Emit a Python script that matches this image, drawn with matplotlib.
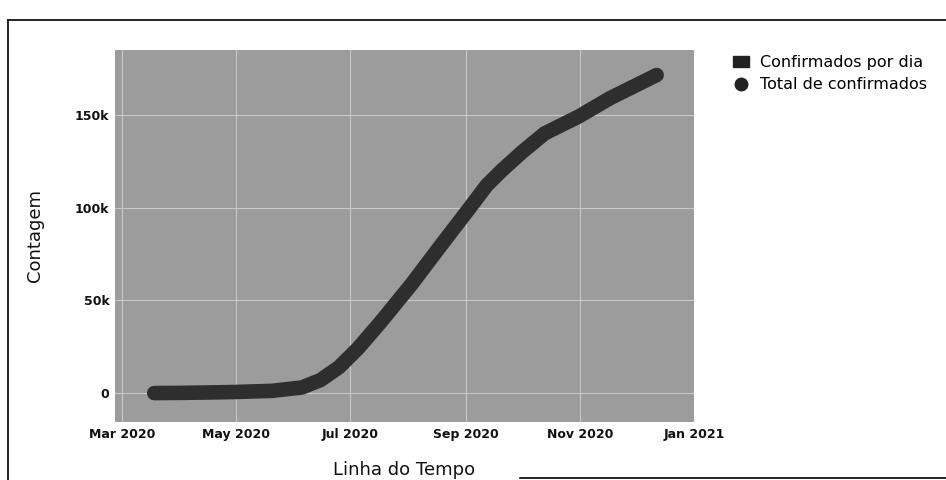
import numpy as np
import matplotlib
matplotlib.use('Agg')
import matplotlib.pyplot as plt
from matplotlib.lines import Line2D
from matplotlib.patches import Patch

# total confirmados
datas = ['2020-03-18', '2020-04-01', '2020-04-15', '2020-05-01', '2020-05-20',
         '2020-06-05', '2020-06-15', '2020-06-25', '2020-07-05', '2020-07-17',
         '2020-08-03', '2020-08-18', '2020-09-03', '2020-09-12', '2020-09-20',
         '2020-10-01', '2020-10-13', '2020-10-31', '2020-11-17', '2020-12-01',
         '2020-12-12']
total = [0, 100, 300, 600, 1200,
         3000, 7000, 14000, 24000, 38000,
         59000, 79000, 100000, 112000, 120000,
         130000, 140000, 149000, 159000, 166000,
         171500]

y_ticks = [0, 50000, 100000, 150000]
y_labels = ['0', '50k', '100k', '150k']
x_ticks = ['2020-03-01', '2020-05-01', '2020-07-01', '2020-09-01', '2020-11-01', '2021-01-01']
x_labels = ['Mar 2020', 'May 2020', 'Jul 2020', 'Sep 2020', 'Nov 2020', 'Jan 2021']

fig = plt.figure(figsize=(9.46, 4.8), dpi=100)
ax = fig.add_axes([115/946, 1-422/480, 579/946, 372/480])
ax.set_facecolor('#9c9c9c')

x = np.array(datas, dtype='datetime64[D]')
ax.plot(x, total, color='#2e2e2e', lw=10.5, solid_capstyle='round',
        solid_joinstyle='round', zorder=3)

ax.set_xlim(np.datetime64('2020-02-26'), np.datetime64('2021-01-01'))
ax.set_ylim(-15600, 185000)
ax.set_xticks(np.array(x_ticks, dtype='datetime64[D]'))
ax.set_xticklabels(x_labels)
ax.set_yticks(y_ticks)
ax.set_yticklabels(y_labels)
ax.grid(True, color='#c8c8c8', lw=0.8, zorder=0)
ax.set_axisbelow(True)
for s in ax.spines.values():
    s.set_visible(False)
ax.tick_params(length=0, labelsize=9, colors='#111111', pad=4)
for t in ax.get_xticklabels() + ax.get_yticklabels():
    t.set_fontweight('bold')

ax.set_xlabel('Linha do Tempo', fontsize=13, color='#111111')
ax.set_ylabel('Contagem', fontsize=13, color='#111111')
ax.xaxis.set_label_coords(0.5, -0.105)
ax.yaxis.set_label_coords(-0.123, 0.5)

handles = [Patch(facecolor='#222222', edgecolor='#222222'),
           Line2D([], [], marker='o', ls='', color='#222222', markersize=9)]
fig.legend(handles, ['Confirmados por dia', 'Total de confirmados'],
           loc='upper left', bbox_to_anchor=(733/946, 1-55/480), frameon=False,
           fontsize=11.5, borderpad=0, borderaxespad=0,
           handlelength=1.0, handletextpad=0.7, labelspacing=0.45)

# page border of the scan
fig.add_artist(Line2D([8/946, 1], [1-20/480, 1-20/480], color='black', lw=1.2))
fig.add_artist(Line2D([8/946, 8/946], [1-20/480, 0], color='black', lw=1.2))
fig.add_artist(Line2D([0.55, 1], [2/480, 2/480], color='black', lw=1.2))

fig.savefig('out.png', dpi=100)
